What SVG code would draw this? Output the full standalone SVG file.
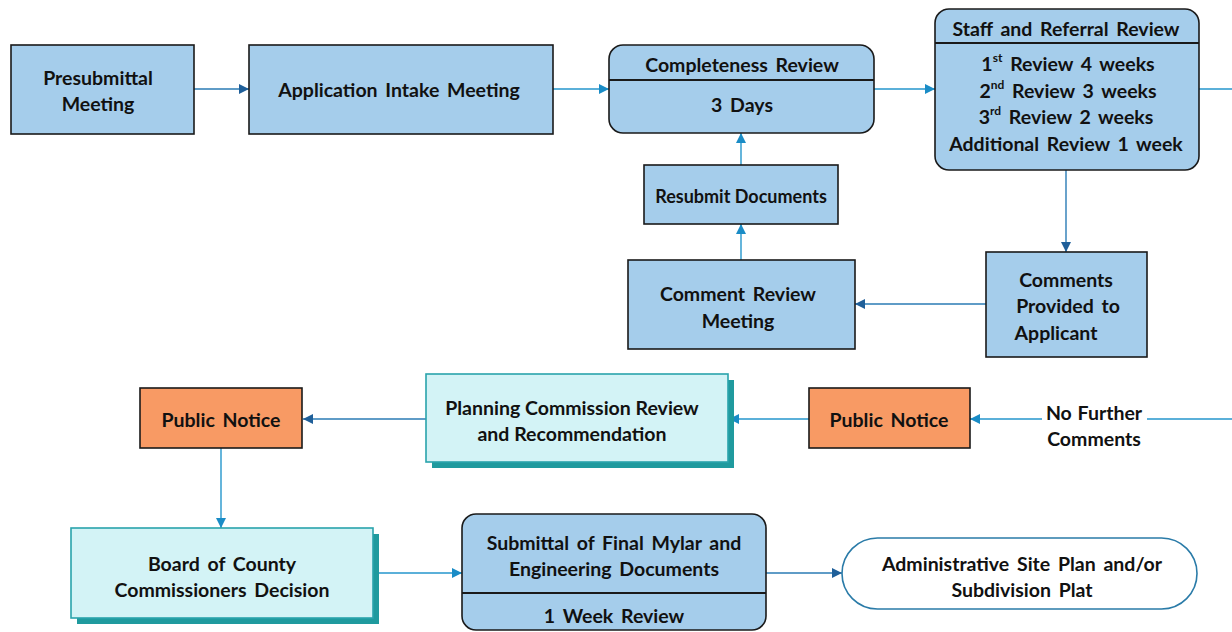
<svg xmlns="http://www.w3.org/2000/svg" width="1232" height="632" viewBox="0 0 1232 632">
<defs>
<style>
text{font-family:Lato,"Open Sans","Liberation Sans",sans-serif;font-weight:bold;font-size:19.5px;fill:#111;text-anchor:middle;dominant-baseline:central;word-spacing:3px}
.blue{fill:#A5CDEB;stroke:#1a1a1a;stroke-width:1.6}
.orange{fill:#F89A64;stroke:#1a1a1a;stroke-width:1.6}
.cyan{fill:#D3F3F6;stroke:#2AA3AC;stroke-width:1.6}
.shadow{fill:#1F9A9E}
.div{stroke:#1a1a1a;stroke-width:1.8}
.c1{fill:none;stroke:#2A7BB5;stroke-width:1.4;marker-end:url(#ad)}
.c2{fill:none;stroke:#2496CC;stroke-width:1.4;marker-end:url(#al)}
.c0{fill:none;stroke:#2496CC;stroke-width:1.4}
.sup{font-size:12px}
</style>
<marker id="ad" viewBox="0 0 10 10" refX="10" refY="5" markerWidth="10" markerHeight="10" markerUnits="userSpaceOnUse" orient="auto"><path d="M0,0 L10,5 L0,10 Z" fill="#1F5F99"/></marker>
<marker id="al" viewBox="0 0 10 10" refX="10" refY="5" markerWidth="10" markerHeight="10" markerUnits="userSpaceOnUse" orient="auto"><path d="M0,0 L10,5 L0,10 Z" fill="#1A8CC6"/></marker>
</defs>
<rect width="1232" height="632" fill="#fff"/>

<g id="connectors">
<line class="c1" x1="194" y1="89" x2="249" y2="89"/>
<line class="c2" x1="553" y1="89" x2="609" y2="89"/>
<line class="c2" x1="874" y1="89" x2="935" y2="89"/>
<line class="c0" x1="1199" y1="89" x2="1232" y2="89"/>
<line class="c1" x1="1066" y1="170" x2="1066" y2="252"/>
<line class="c1" x1="986" y1="304" x2="855" y2="304"/>
<line class="c2" x1="741" y1="260" x2="741" y2="224"/>
<line class="c2" x1="741" y1="165" x2="741" y2="133"/>
<line class="c0" x1="1232" y1="419" x2="1147" y2="419"/>
<line class="c2" x1="1042" y1="419" x2="970" y2="419"/>
<line class="c2" x1="809" y1="419" x2="729" y2="419"/>
<line class="c1" x1="426" y1="419" x2="303" y2="419"/>
<line class="c2" x1="221" y1="448" x2="221" y2="528"/>
<line class="c2" x1="373" y1="573" x2="462" y2="573"/>
<line class="c1" x1="766" y1="573" x2="842" y2="573"/>
</g>

<g id="presubmittal">
<rect class="blue" x="11" y="45" width="183" height="89"/>
<text x="98" y="77">Presubmittal</text>
<text x="98" y="103">Meeting</text>
</g>

<g id="intake">
<rect class="blue" x="249" y="45" width="304" height="89"/>
<text x="399" y="89">Application Intake Meeting</text>
</g>

<g id="completeness">
<rect class="blue" x="609" y="45" width="265" height="88" rx="14"/>
<line class="div" x1="609" y1="80" x2="874" y2="80"/>
<text x="742" y="64">Completeness Review</text>
<text x="742" y="104">3 Days</text>
</g>

<g id="staff">
<rect class="blue" x="935" y="9" width="264" height="161" rx="14"/>
<line class="div" x1="935" y1="43" x2="1199" y2="43"/>
<text x="1066" y="28">Staff and Referral Review</text>
<text x="1068" y="63">1<tspan class="sup" dy="-6">st</tspan><tspan dy="6"> Review 4 weeks</tspan></text>
<text x="1068" y="90">2<tspan class="sup" dy="-6">nd</tspan><tspan dy="6"> Review 3 weeks</tspan></text>
<text x="1066" y="116">3<tspan class="sup" dy="-6">rd</tspan><tspan dy="6"> Review 2 weeks</tspan></text>
<text x="1066" y="143">Additional Review 1 week</text>
</g>

<g id="resubmit">
<rect class="blue" x="644" y="165" width="194" height="59"/>
<text x="741" y="196" style="font-size:18px;word-spacing:0">Resubmit Documents</text>
</g>

<g id="comment-review">
<rect class="blue" x="628" y="260" width="227" height="89"/>
<text x="738" y="293">Comment Review</text>
<text x="738" y="320">Meeting</text>
</g>

<g id="comments-provided">
<rect class="blue" x="986" y="252" width="161" height="105"/>
<text x="1066" y="279">Comments</text>
<text x="1068" y="305">Provided to</text>
<text x="1056" y="332">Applicant</text>
</g>

<g id="no-further">
<text x="1094" y="412" style="word-spacing:1px">No Further</text>
<text x="1094" y="438">Comments</text>
</g>

<g id="public-notice-right">
<rect class="orange" x="809" y="388" width="161" height="60"/>
<text x="889" y="419">Public Notice</text>
</g>

<g id="planning">
<rect class="shadow" x="432" y="380" width="302" height="88"/>
<rect class="cyan" x="426" y="374" width="302" height="88"/>
<text x="572" y="407" style="word-spacing:0">Planning Commission Review</text>
<text x="572" y="433" style="word-spacing:0">and Recommendation</text>
</g>

<g id="public-notice-left">
<rect class="orange" x="140" y="388" width="162" height="60"/>
<text x="221" y="419">Public Notice</text>
</g>

<g id="board">
<rect class="shadow" x="77" y="534" width="302" height="90"/>
<rect class="cyan" x="71" y="528" width="302" height="90"/>
<text x="222" y="563">Board of County</text>
<text x="222" y="589">Commissioners Decision</text>
</g>

<g id="submittal">
<rect class="blue" x="462" y="514" width="304" height="116" rx="14"/>
<line class="div" x1="462" y1="593" x2="766" y2="593"/>
<text x="614" y="542">Submittal of Final Mylar and</text>
<text x="614" y="568">Engineering Documents</text>
<text x="614" y="615">1 Week Review</text>
</g>

<g id="admin">
<rect x="842" y="538" width="355" height="71" rx="35.5" fill="#fff" stroke="#2A7BA8" stroke-width="1.6"/>
<text x="1022" y="563">Administrative Site Plan and/or</text>
<text x="1022" y="589">Subdivision Plat</text>
</g>
</svg>
